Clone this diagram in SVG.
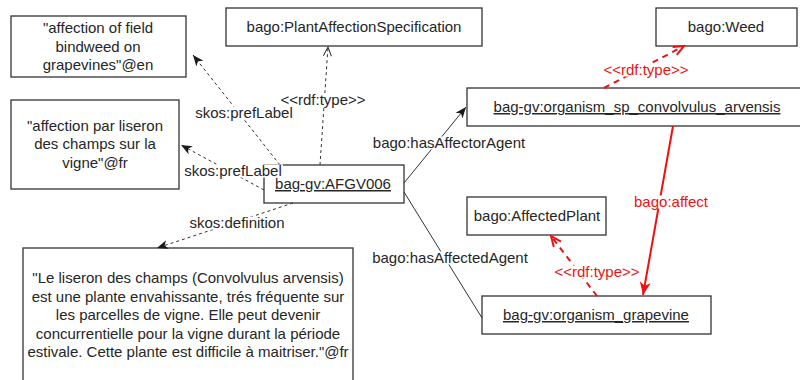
<svg xmlns="http://www.w3.org/2000/svg" width="800" height="380" viewBox="0 0 800 380">
  <defs>
    <style>
      .box { fill: #ffffff; stroke: #333333; stroke-width: 1.3; }
      .t { font-family: "Liberation Sans", Arial, sans-serif; font-size: 15px; fill: #262626; text-anchor: middle; }
      .u { text-decoration: underline; }
      .red { fill: #ee1111; }
      .lbg { fill: #ffffff; }
      .edge { fill: none; stroke: #333333; stroke-width: 1; }
      .dash { stroke-dasharray: 3 3; }
      .redge { fill: none; stroke: #ee1111; stroke-width: 2; }
      .rdash { stroke-dasharray: 6 5; }
    </style>
    <marker id="fillBlack" markerUnits="userSpaceOnUse" markerWidth="12" markerHeight="10" refX="11" refY="5" orient="auto" viewBox="0 0 12 10">
      <path d="M0,0.5 L11,5 L0,9.5 L3,5 Z" fill="#1a1a1a"/>
    </marker>
    <marker id="openBlack" markerUnits="userSpaceOnUse" markerWidth="12" markerHeight="10" refX="10" refY="5" orient="auto" viewBox="0 0 12 10">
      <path d="M1,1 L10,5 L1,9" fill="none" stroke="#333333" stroke-width="1"/>
    </marker>
    <marker id="fillRed" markerUnits="userSpaceOnUse" markerWidth="14" markerHeight="12" refX="13" refY="6" orient="auto" viewBox="0 0 14 12">
      <path d="M0,0.5 L13,6 L0,11.5 L3.5,6 Z" fill="#ee1111"/>
    </marker>
    <marker id="openRed" markerUnits="userSpaceOnUse" markerWidth="14" markerHeight="12" refX="12" refY="6" orient="auto" viewBox="0 0 14 12">
      <path d="M1.5,1.5 L12,6 L1.5,10.5" fill="none" stroke="#ee1111" stroke-width="2"/>
    </marker>
  </defs>

  <rect width="800" height="380" fill="#ffffff"/>

  <!-- nodes -->
  <g id="label-en">
    <rect class="box" x="11" y="16" width="175" height="61"/>
    <text class="t" x="98" y="33">"affection of field</text>
    <text class="t" x="98" y="52">bindweed on</text>
    <text class="t" x="98" y="70">grapevines"@en</text>
  </g>

  <g id="label-fr">
    <rect class="box" x="11" y="100" width="168" height="89"/>
    <text class="t" x="95" y="131">"affection par liseron</text>
    <text class="t" x="95" y="149">des champs sur la</text>
    <text class="t" x="95" y="168">vigne"@fr</text>
  </g>

  <g id="plant-affection-specification">
    <rect class="box" x="226" y="8" width="256" height="38"/>
    <text class="t" x="354" y="32">bago:PlantAffectionSpecification</text>
  </g>

  <g id="weed">
    <rect class="box" x="656" y="8" width="141" height="38"/>
    <text class="t" x="726" y="32">bago:Weed</text>
  </g>

  <g id="convolvulus-arvensis">
    <rect class="box" x="467" y="88" width="340" height="38"/>
    <text class="t u" x="637" y="112">bag-gv:organism_sp_convolvulus_arvensis</text>
  </g>

  <g id="afgv006">
    <rect class="box" x="264" y="165" width="140" height="38"/>
    <text class="t u" x="333" y="189">bag-gv:AFGV006</text>
  </g>

  <g id="affected-plant">
    <rect class="box" x="467" y="197" width="139" height="38"/>
    <text class="t" x="537" y="221">bago:AffectedPlant</text>
  </g>

  <g id="grapevine">
    <rect class="box" x="482" y="296" width="229" height="38"/>
    <text class="t u" x="596" y="320">bag-gv:organism_grapevine</text>
  </g>

  <g id="definition">
    <rect class="box" x="23" y="248" width="330" height="150"/>
    <text class="t" x="188" y="283">"Le liseron des champs (Convolvulus arvensis)</text>
    <text class="t" x="188" y="302">est une plante envahissante, trés fréquente sur</text>
    <text class="t" x="188" y="320">les parcelles de vigne. Elle peut devenir</text>
    <text class="t" x="188" y="339">concurrentielle pour la vigne durant la période</text>
    <text class="t" x="188" y="357">estivale. Cette plante est difficile à maitriser."@fr</text>
  </g>

  <!-- connectors -->
  <g id="connectors">
    <!-- skos:prefLabel (en) -->
    <line class="edge dash" x1="280" y1="165" x2="193" y2="55" marker-end="url(#fillBlack)"/>
    <!-- skos:prefLabel (fr) -->
    <line class="edge dash" x1="264" y1="190" x2="181" y2="145" marker-end="url(#fillBlack)"/>
    <!-- rdf:type to PlantAffectionSpecification -->
    <line class="edge dash" x1="320" y1="165" x2="328" y2="47" marker-end="url(#openBlack)"/>
    <!-- skos:definition -->
    <line class="edge dash" x1="293" y1="203" x2="157" y2="248" marker-end="url(#fillBlack)"/>
    <!-- bago:hasAffectorAgent -->
    <line class="edge" x1="404" y1="183" x2="466" y2="107" marker-end="url(#fillBlack)"/>
    <!-- bago:hasAffectedAgent -->
    <line class="edge" x1="404" y1="192" x2="482" y2="318"/>
    <!-- rdf:type to bago:Weed -->
    <line class="redge rdash" x1="604" y1="88" x2="684" y2="46" marker-end="url(#openRed)"/>
    <!-- bago:affect -->
    <line class="redge" x1="673" y1="126" x2="643" y2="295" marker-end="url(#fillRed)"/>
    <!-- rdf:type to bago:AffectedPlant -->
    <line class="redge rdash" x1="597" y1="296" x2="551" y2="236" marker-end="url(#openRed)"/>

    <!-- edge labels -->
    <rect class="lbg" x="195" y="106.5" width="99" height="13"/>
    <text class="t" x="244" y="118">skos:prefLabel</text>
    <rect class="lbg" x="184" y="164.5" width="99" height="13"/>
    <text class="t" x="233" y="176">skos:prefLabel</text>
    <rect class="lbg" x="281" y="93.5" width="85" height="13"/>
    <text class="t" x="323" y="105">&lt;&lt;rdf:type&gt;&gt;</text>
    <rect class="lbg" x="189" y="216.5" width="97" height="13"/>
    <text class="t" x="237" y="228">skos:definition</text>
    <rect class="lbg" x="370" y="136.5" width="158" height="13"/>
    <text class="t" x="449" y="148">bago:hasAffectorAgent</text>
    <rect class="lbg" x="372" y="251.5" width="156" height="13"/>
    <text class="t" x="450" y="263">bago:hasAffectedAgent</text>
    <rect class="lbg" x="603" y="63.5" width="86" height="13"/>
    <text class="t red" x="646" y="75">&lt;&lt;rdf:type&gt;&gt;</text>
    <rect class="lbg" x="633" y="195.5" width="76" height="13"/>
    <text class="t red" x="671" y="207">bago:affect</text>
    <rect class="lbg" x="554" y="265.5" width="86" height="13"/>
    <text class="t red" x="597" y="277">&lt;&lt;rdf:type&gt;&gt;</text>
  </g>
</svg>
